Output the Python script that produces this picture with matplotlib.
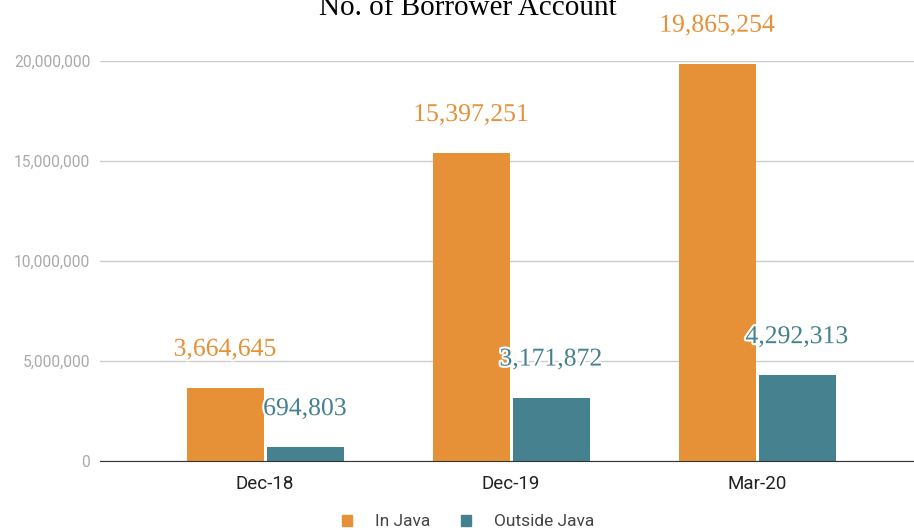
import numpy as np
import matplotlib
matplotlib.use("Agg")
import matplotlib.pyplot as plt
import matplotlib.patheffects as pe
from matplotlib.patches import Patch

# data
periods = ["Dec-18", "Dec-19", "Mar-20"]
in_java = [3664645, 15397251, 19865254]
outside_java = [694803, 3171872, 4292313]
series_names = ["In Java", "Outside Java"]
colors = ["#E69138", "#45818E"]

fig = plt.figure(figsize=(9.14, 5.30), dpi=100)
ax = fig.add_axes([100/914, 69/530, 814/914, 400/530])

x = np.arange(len(periods))
w = 0.313
gap = 0.006
b1 = ax.bar(x - w/2 - gap, in_java, w, color=colors[0], zorder=3)
b2 = ax.bar(x + w/2 + gap, outside_java, w, color=colors[1], zorder=3)

ax.set_xlim(-0.671, 2.638)
ax.set_ylim(0, 20000000)
ax.set_yticks([0, 5000000, 10000000, 15000000, 20000000])
ax.set_yticklabels(["{:,}".format(v) for v in [0, 5000000, 10000000, 15000000, 20000000]],
                   family="Roboto", fontsize=11.2, color="#aaaaaa")
ax.set_xticks(x)
ax.set_xticklabels(periods, family="Roboto", fontsize=13.5, color="#222222")
ax.tick_params(axis="y", length=0, pad=7)
ax.tick_params(axis="x", length=0, pad=10)
ax.grid(axis="y", color="#cccccc", linewidth=1, zorder=0)
for s in ["top", "right", "left"]:
    ax.spines[s].set_visible(False)
ax.spines["bottom"].set_color("#333333")
ax.spines["bottom"].set_zorder(4)

# data labels
for bars, vals, c in [(b1, in_java, colors[0]), (b2, outside_java, colors[1])]:
    for r, v in zip(bars, vals):
        ax.annotate("{:,}".format(v), (r.get_x() + r.get_width()/2, v),
                    xytext=(0, 32), textcoords="offset pixels",
                    ha="center", va="baseline", family="Liberation Serif",
                    fontsize=18.5, color=c, zorder=5, annotation_clip=False,
                    path_effects=[pe.withStroke(linewidth=3, foreground="white")])

fig.text(468/914, 1 - 15/530, "No. of Borrower Account", ha="center", va="baseline",
         family="Liberation Serif", fontsize=21, color="#000000")

handles = [Patch(color=colors[0]), Patch(color=colors[1])]
fig.legend(handles, series_names, loc="center", bbox_to_anchor=(468/914, 8/530),
           ncol=2, frameon=False, handlelength=0.62, handleheight=0.62,
           columnspacing=1.75, handletextpad=1.3,
           prop={"family": "Roboto", "size": 12.5}, labelcolor="#444444")

fig.savefig("out.png", dpi=100)
